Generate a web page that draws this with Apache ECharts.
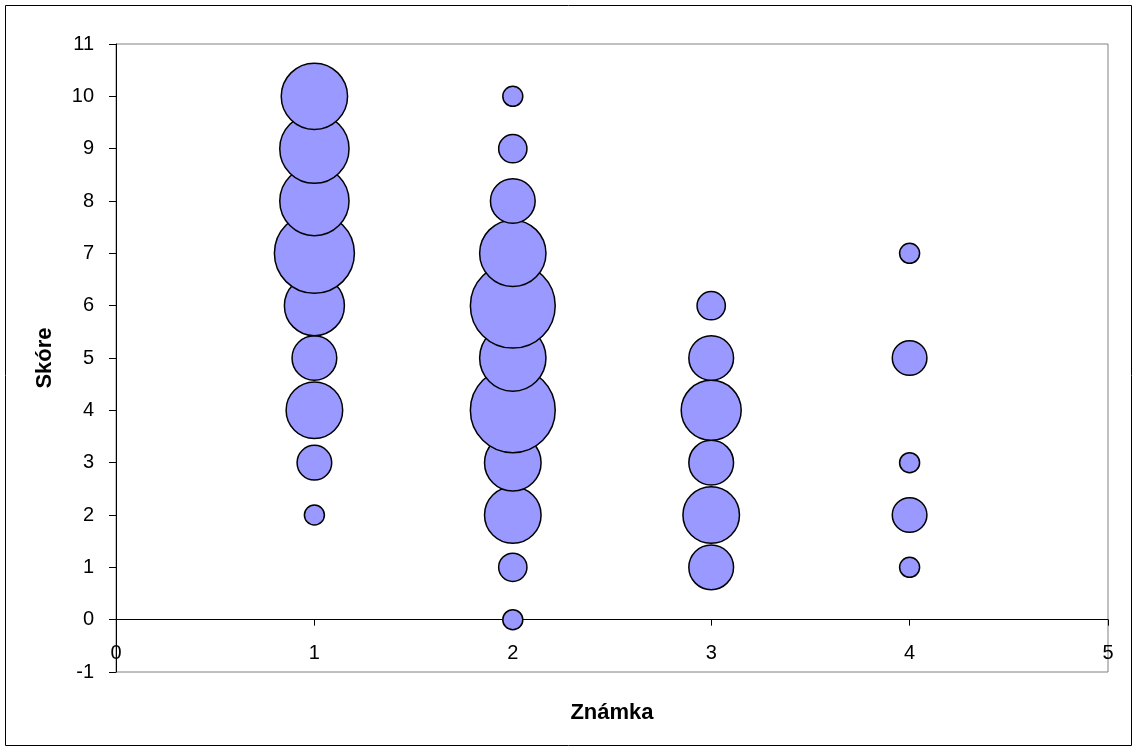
<!DOCTYPE html>
<html>
<head>
<meta charset="utf-8">
<script src="https://cdn.jsdelivr.net/npm/echarts@6/dist/echarts.min.js"></script>
<style>
html,body{margin:0;padding:0;background:#fff;}
#chart{width:1134px;height:751px;}
</style>
</head>
<body>
<div id="chart"></div>
<script>
// Známka (grade), Skóre (score), Počet (bubble size = count)
const znamka = [1,1,1,1,1,1,1,1,1, 2,2,2,2,2,2,2,2,2,2,2, 3,3,3,3,3,3, 4,4,4,4,4];
const skore  = [2,3,4,5,6,7,8,9,10, 0,1,2,3,4,5,6,7,8,9,10, 1,2,3,4,5,6, 1,2,3,5,7];
const pocet  = [1,3,8,5,9,16,12,12,11, 1,2,8,8,18,11,18,11,5,2,1, 5,8,5,9,5,2, 1,3,1,3,1];
const xTicks = [0,1,2,3,4,5];
const yTicks = [-1,0,1,2,3,4,5,6,7,8,9,10,11];

const data = znamka.map((x, i) => [x, skore[i], pocet[i]]);
const font = '"Liberation Sans", Arial, sans-serif';

const chart = echarts.init(document.getElementById('chart'), null, {renderer: 'canvas'});
chart.setOption({
  animation: false,
  backgroundColor: '#ffffff',
  grid: {left: 116, right: 26, top: 44, bottom: 79, containLabel: false, outerBoundsMode: 'none',
         show: true, borderColor: '#808080', borderWidth: 1, backgroundColor: 'transparent'},
  graphic: [{
    type: 'rect', silent: true, z: 100,
    shape: {x: 5.5, y: 5.5, width: 1126, height: 740},
    style: {fill: 'none', stroke: '#000', lineWidth: 1}
  }],
  xAxis: {
    type: 'value',
    min: xTicks[0], max: xTicks[xTicks.length - 1], interval: 1,
    name: 'Známka', nameLocation: 'middle', nameGap: 30,
    nameTextStyle: {fontFamily: font, fontSize: 22, fontWeight: 'bold', color: '#000'},
    axisLine: {show: true, onZero: true, lineStyle: {color: '#000', width: 1}},
    axisTick: {show: true, inside: false, length: 6, lineStyle: {color: '#000'}},
    axisLabel: {fontFamily: font, fontSize: 20, color: '#000', margin: -29},
    splitLine: {show: false}
  },
  yAxis: {
    type: 'value',
    min: yTicks[0], max: yTicks[yTicks.length - 1], interval: 1,
    name: 'Skóre', nameLocation: 'middle', nameGap: 60, nameRotate: 90,
    nameTextStyle: {fontFamily: font, fontSize: 22, fontWeight: 'bold', color: '#000'},
    axisLine: {show: true, onZero: false, lineStyle: {color: '#000', width: 1}},
    axisTick: {show: true, inside: false, length: 7, lineStyle: {color: '#000'}},
    axisLabel: {fontFamily: font, fontSize: 20, color: '#000', margin: 22},
    splitLine: {show: false}
  },
  series: [{
    type: 'scatter',
    data: data,
    symbol: 'circle',
    symbolSize: function (v) { return 20 * Math.sqrt(v[2]); },
    itemStyle: {color: '#9999FF', borderColor: '#000', borderWidth: 1.5, opacity: 1},
    emphasis: {disabled: true}
  }]
});
</script>
</body>
</html>
